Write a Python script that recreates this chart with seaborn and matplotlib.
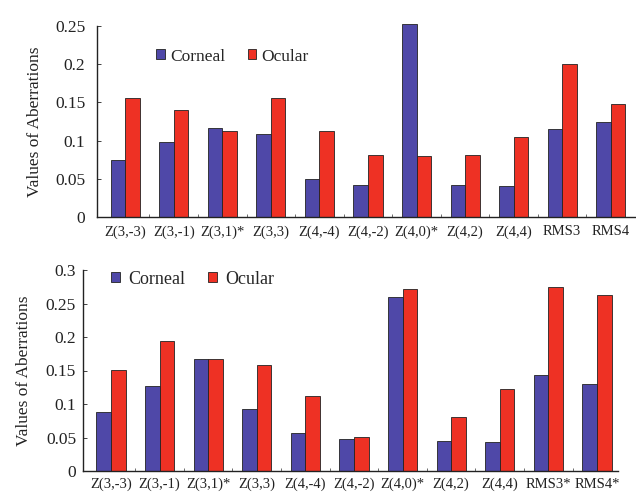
import numpy as np
import pandas as pd
import matplotlib
matplotlib.use("Agg")
import matplotlib.pyplot as plt
from matplotlib.ticker import FixedLocator
import seaborn as sns

# Zernike terms for each panel
terms_top = ["Z(3,-3)", "Z(3,-1)", "Z(3,1)*", "Z(3,3)", "Z(4,-4)", "Z(4,-2)",
             "Z(4,0)*", "Z(4,2)", "Z(4,4)", "RMS3", "RMS4"]
terms_bottom = ["Z(3,-3)", "Z(3,-1)", "Z(3,1)*", "Z(3,3)", "Z(4,-4)", "Z(4,-2)",
                "Z(4,0)*", "Z(4,2)", "Z(4,4)", "RMS3*", "RMS4*"]

# Aberration magnitudes (microns)
corneal_top = [0.075, 0.098, 0.117, 0.109, 0.050, 0.042, 0.253, 0.042, 0.041, 0.115, 0.125]
ocular_top = [0.156, 0.140, 0.112, 0.156, 0.112, 0.081, 0.080, 0.081, 0.105, 0.200, 0.148]

corneal_bottom = [0.088, 0.127, 0.167, 0.093, 0.057, 0.048, 0.260, 0.045, 0.043, 0.143, 0.130]
ocular_bottom = [0.151, 0.194, 0.167, 0.158, 0.112, 0.051, 0.271, 0.080, 0.122, 0.275, 0.262]

series_names = ["Corneal", "Ocular"]
palette = {"Corneal": "#4F48A8", "Ocular": "#EE3124"}

sns.set_theme(style="white")
plt.rcParams["font.family"] = ["Liberation Serif", "DejaVu Serif"]


def long_table(terms, corneal, ocular):
    return pd.DataFrame({
        "term": terms * 2,
        "value": corneal + ocular,
        "source": [series_names[0]] * len(terms) + [series_names[1]] * len(terms),
    })


def draw_panel(ax, terms, corneal, ocular, ymax, yticks, ytick_labels, xlim,
               legend_anchor, ypad, xpad, legend_size, text_pad):
    df = long_table(terms, corneal, ocular)
    sns.barplot(data=df, x="term", y="value", hue="source", order=terms,
                hue_order=series_names, palette=palette, width=0.6, gap=0,
                edgecolor="#222222", linewidth=0.6, saturation=1, ax=ax)
    for bar in ax.patches:
        bar.set_clip_on(False)
    ax.set_ylim(0, ymax)
    ax.set_xlim(*xlim)
    ax.set_yticks(yticks)
    ax.set_yticklabels(ytick_labels, fontsize=12.5)
    ax.set_xticks(range(len(terms)))
    ax.set_xticklabels(terms, fontsize=10.5)
    ax.xaxis.set_minor_locator(FixedLocator(np.arange(0.5, len(terms) - 1, 1.0)))
    ax.tick_params(axis="x", which="major", length=0, pad=xpad, colors="#222222")
    ax.tick_params(axis="x", which="minor", direction="in", length=2, width=0.6,
                   bottom=True, color="#555555")
    ax.tick_params(axis="y", which="major", direction="in", length=3, width=0.6,
                   left=True, pad=ypad, colors="#222222")
    ax.set_xlabel("")
    ax.set_ylabel("Values of Aberrations", fontsize=12.5, color="#222222")
    for side in ("top", "right"):
        ax.spines[side].set_visible(False)
    for side in ("left", "bottom"):
        ax.spines[side].set_color("#222222")
        ax.spines[side].set_linewidth(1.0)
    handles, labels = ax.get_legend_handles_labels()
    ax.legend(handles, labels, loc="center left", bbox_to_anchor=legend_anchor,
              ncol=2, frameon=False, fontsize=legend_size, handlelength=0.5,
              handleheight=0.5, handletextpad=text_pad, columnspacing=1.3,
              borderaxespad=0, borderpad=0)


fig = plt.figure(figsize=(6.36, 5.00), dpi=100)
ax_top = fig.add_axes([0.1525, 0.566, 0.846, 0.382])
ax_bot = fig.add_axes([0.1305, 0.058, 0.841, 0.402])

draw_panel(ax_top, terms_top, corneal_top, ocular_top, 0.25,
           [0, 0.05, 0.1, 0.15, 0.2, 0.25],
           ["0", "0.05", "0.1", "0.15", "0.2", "0.25"],
           (-0.58, 10.5), (0.11, 0.84), ypad=8.5, xpad=6,
           legend_size=12.5, text_pad=0.3)
draw_panel(ax_bot, terms_bottom, corneal_bottom, ocular_bottom, 0.3,
           [0, 0.05, 0.1, 0.15, 0.2, 0.25, 0.3],
           ["0", "0.05", "0.1", "0.15", "0.2", "0.25", "0.3"],
           (-0.576, 10.43), (0.052, 0.955), ypad=5, xpad=5,
           legend_size=13, text_pad=0.45)

ax_top.yaxis.set_label_coords(-0.100, 0.5)
ax_bot.yaxis.set_label_coords(-0.095, 0.5)

fig.savefig("out.png", dpi=100, facecolor="white")
